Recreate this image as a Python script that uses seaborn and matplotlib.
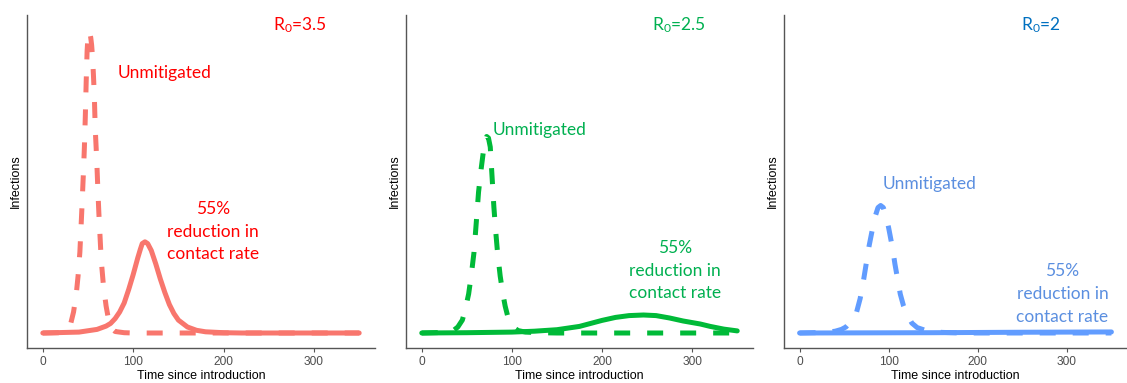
import numpy as np
import pandas as pd
import matplotlib
matplotlib.use("Agg")
import matplotlib.pyplot as plt
import seaborn as sns

# ---------------- data (arbitrary infection units) ----------------
# Panel 1: R0 = 3.5
t1_unmit = [0, 20, 28, 31, 34, 37, 39, 41, 43, 45, 46, 47, 48, 49, 50, 51, 52, 53, 54, 55, 56, 57, 58, 59.6,
            61, 62, 64, 65, 67, 70, 73, 75.5, 80, 90, 100, 350]
y1_unmit = [0, 0.1, 1.5, 3.3, 7, 13, 19, 27, 40, 54, 62, 72, 84, 94, 99, 100.5, 100, 98.5, 96, 92, 86, 79, 68, 58,
            47, 40, 28, 23, 16, 9, 4, 1.7, 0.5, 0.1, 0, 0]
t1_mit = [0, 40, 60, 70, 75, 80, 85, 90, 95, 100, 105, 108, 110, 113, 116, 120, 125, 130, 135, 140, 145, 150,
          160, 170, 180, 200, 220, 350]
y1_mit = [0, 0.3, 1.2, 2.3, 3.2, 4.8, 7, 10, 14.5, 19.5, 25, 28, 29.8, 30.4, 29.8, 27.5, 23, 18, 13.5, 9.5, 6.5, 4.3,
          2, 0.9, 0.4, 0.1, 0, 0]

# Panel 2: R0 = 2.5
t2_unmit = [0, 25, 35, 40, 45, 48, 52, 55, 58, 61, 63, 66, 69, 70, 72, 74, 76, 78, 80, 82, 84, 87, 90, 92.5, 95,
            97, 100, 107, 115, 130, 150, 350]
y2_unmit = [0, 0.2, 0.8, 2, 4.3, 7.5, 13, 19.5, 27, 39, 47, 55, 62, 63.5, 65.5, 65, 62, 52, 42, 34, 27, 19, 13, 9, 6,
            3.7, 2.2, 0.8, 0.3, 0.1, 0, 0]
t2_mit = [0, 50, 100, 125, 150, 175, 185, 200, 215, 230, 246, 260, 275, 290, 309, 320, 335, 350]
y2_mit = [0, 0.1, 0.3, 0.6, 1.1, 2.2, 3, 4.2, 5.2, 5.8, 6, 5.8, 5, 4, 3, 2.2, 1.3, 0.7]

# Panel 3: R0 = 2
t3_unmit = [0, 30, 40, 47, 52, 58, 64, 68, 72, 75, 78, 82, 85, 88, 91, 94, 97, 100, 104.5, 107, 110, 113, 116.7,
            120, 126, 132, 144, 160, 180, 350]
y3_unmit = [0, 0.2, 0.6, 1.2, 2, 4, 7, 11.5, 18, 23.5, 29, 35, 39, 41.8, 42.5, 41.8, 39, 35, 28, 23, 18, 13, 9,
            6.5, 3.3, 1.8, 0.6, 0.2, 0, 0]
t3_mit = [0, 150, 250, 350]
y3_mit = [0, 0.1, 0.25, 0.35]

titles = ["R$_0$=3.5", "R$_0$=2.5", "R$_0$=2"]
line_colors = ["#F8766D", "#00BA38", "#619CFF"]
title_colors = ["#FF0000", "#00B050", "#0070C0"]
text_colors = ["#FF0000", "#00B050", "#5B8FE0"]
x_ticks = [0, 100, 200, 300]

panels = [
    (t1_unmit, y1_unmit, t1_mit, y1_mit),
    (t2_unmit, y2_unmit, t2_mit, y2_mit),
    (t3_unmit, y3_unmit, t3_mit, y3_mit),
]

# annotation anchor positions (data coords)
unmit_pos = [(83, 86.7), (79, 67.7), (93.7, 49.7)]
mit_pos = [(188, 33.7), (281, 20.7), (295, 13)]
title_pos = [(284, 102.7), (285, 102.7), (271, 102.7)]

# ---------------- style ----------------
sns.set_theme(style="ticks")
plt.rcParams["font.family"] = ["Liberation Sans", "DejaVu Sans"]
plt.rcParams["mathtext.fontset"] = "custom"
plt.rcParams["mathtext.rm"] = "Lato"
plt.rcParams["mathtext.it"] = "Lato:italic"

fig = plt.figure(figsize=(11.27, 3.83), dpi=100)
W, H = 1127, 383
axes_px = [(27, 375), (406, 753), (784, 1127)]
top_px, bot_px = 15, 348

ann_font = ["Lato", "DejaVu Sans"]

for i, (ta, ya, tb, yb) in enumerate(panels):
    l, r = axes_px[i]
    ax = fig.add_axes([l / W, (H - bot_px) / H, (r - l) / W, (bot_px - top_px) / H])
    df_u = pd.DataFrame({"time": ta, "infections": ya})
    df_m = pd.DataFrame({"time": tb, "infections": yb})
    lw = 3.6
    sns.lineplot(data=df_u, x="time", y="infections", ax=ax, color=line_colors[i], lw=lw,
                 linestyle=(0, (3.2, 3.4)), estimator=None, sort=False)
    sns.lineplot(data=df_m, x="time", y="infections", ax=ax, color=line_colors[i], lw=lw,
                 estimator=None, sort=False)
    ax.set_xlim(-17.5, 367.5)
    ax.set_ylim(-5, 106)
    ax.set_xticks(x_ticks)
    ax.set_xticklabels([str(v) for v in x_ticks], fontsize=8.6, color="#4D4D4D")
    ax.set_yticks([])
    ax.tick_params(axis="x", length=3, width=0.8, color="#555555", pad=3)
    for s in ["top", "right"]:
        ax.spines[s].set_visible(False)
    for s in ["left", "bottom"]:
        ax.spines[s].set_color("#555555")
        ax.spines[s].set_linewidth(1.0)
    ax.set_xlabel("Time since introduction", fontsize=9, color="black", labelpad=1)
    ax.set_ylabel("Infections", fontsize=9, color="black", labelpad=4)
    ax.patch.set_alpha(0)

    ax.text(*title_pos[i], titles[i], color=title_colors[i], fontsize=12.5, ha="center", va="center",
            family=ann_font)
    ax.text(*unmit_pos[i], "Unmitigated", color=text_colors[i], fontsize=12.5, ha="left", va="center",
            family=ann_font)
    ax.text(*mit_pos[i], "55%\nreduction in\ncontact rate", color=text_colors[i], fontsize=12.5,
            ha="center", va="center", family=ann_font, linespacing=1.5)

fig.savefig("out.png", dpi=100)
